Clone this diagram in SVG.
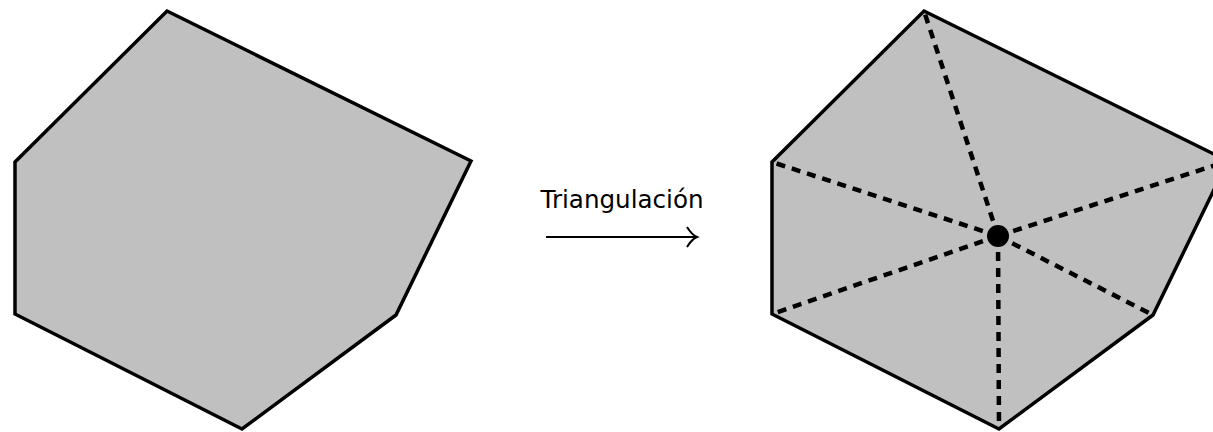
<svg xmlns="http://www.w3.org/2000/svg" width="1213" height="432" viewBox="0 0 1213 432">
<style>
.poly{fill:#c0c0c0;stroke:#000;stroke-width:3.5;stroke-linejoin:miter}
.spoke{stroke:#000;stroke-width:4.5;stroke-dasharray:9 7;fill:none}
.lbl{font-family:"DejaVu Sans",sans-serif;font-size:25px;fill:#000}
</style>
<rect width="1213" height="432" fill="#fff"/>
<g id="polygon-original">
<polygon class="poly" points="167,11 471,161 396,315 242,429 15,314 15,162"/>
</g>
<g id="polygon-triangulated">
<polygon class="poly" points="924,11 1228,161 1153,315 999,429 772,314 772,162"/>
</g>
<g id="connectors">
<line class="spoke" x1="998" y1="236" x2="924" y2="11"/>
<line class="spoke" x1="998" y1="236" x2="1228" y2="161"/>
<line class="spoke" x1="998" y1="236" x2="1153" y2="315"/>
<line class="spoke" x1="998" y1="236" x2="999" y2="429"/>
<line class="spoke" x1="998" y1="236" x2="772" y2="314"/>
<line class="spoke" x1="998" y1="236" x2="772" y2="162"/>
<line x1="546" y1="237" x2="696" y2="237" stroke="#000" stroke-width="2"/>
<path d="M687,227 Q692,235 697,237 Q692,239 687,247" fill="none" stroke="#000" stroke-width="2"/>
</g>
<g id="center">
<circle cx="998" cy="236" r="11" fill="#000"/>
</g>
<g id="label">
<text class="lbl" x="622" y="208" text-anchor="middle" textLength="163" lengthAdjust="spacingAndGlyphs">Triangulación</text>
</g>
</svg>
